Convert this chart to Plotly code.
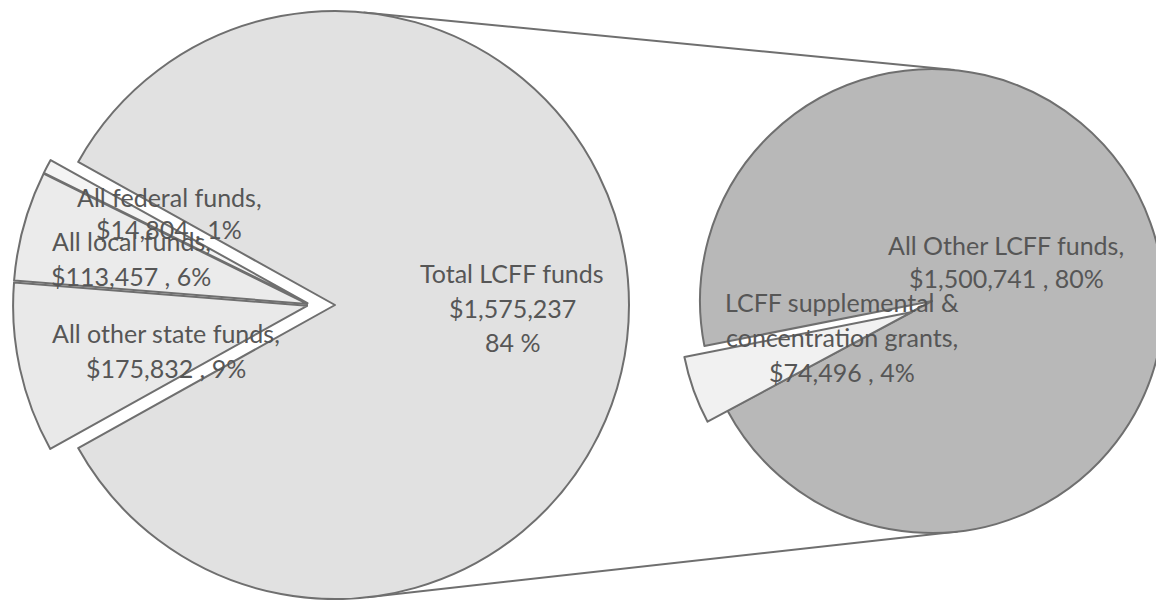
import math
import plotly.graph_objects as go

# ---------------- data ----------------
main_labels = ["All other state funds", "All local funds", "All federal funds", "Total LCFF funds"]
main_values = [175832, 113457, 14804, 1575237]
sub_labels = ["LCFF supplemental & concentration grants", "All Other LCFF funds"]
sub_values = [74496, 1500741]

total = sum(main_values)

# ---------------- layout constants (screen pixels) ----------------
OFF = 8                                  # default page margin around the figure
W, H = 1156, 592                         # figure size
L_CX, L_CY, L_R = 335, 305, 294          # first pie
L_GROUP = (-24, 0)                       # group explosion of the small slices
EXPLODE = 4                              # individual explosion of each small slice
R_CX, R_CY, R_R = 932, 301, 232          # second pie
R_SHIFT = (-20, 11)                      # explosion of the supplemental slice

LCFF_FILL = "#e1e1e1"
SMALL_FILLS = ["#e9e9e9", "#ebebeb", "#f4f4f4"]
SUB_FILL = "#b8b8b8"
SUPP_FILL = "#f1f1f1"
EDGE = "#6f6f6f"
TXT = "#565656"
FONT = "Lato"
FS = 25
CLEAR = "rgba(0,0,0,0)"


def px(sx):
    return (sx - OFF) / W


def py(sy):
    return 1 - (sy - OFF) / H


def domain(cx, cy, r):
    clamp = lambda v: min(1.0, max(0.0, v))
    return dict(x=[clamp(px(cx - r)), clamp(px(cx + r))],
                y=[clamp(py(cy + r)), clamp(py(cy - r))])


# rotation (clockwise from 12 o'clock) so the small slices are centred at 9 o'clock
small_frac = sum(main_values[:3]) / total
start_math = 180 + small_frac * 180          # bottom-left edge of the small group
rot_left = 90 - start_math

# supplemental slice centred slightly below 9 o'clock on the second pie
supp_frac = sub_values[0] / sum(sub_values)
supp_center = 199.7
rot_right = 90 - (supp_center + supp_frac * 180)

fig = go.Figure()

# first pie: LCFF slice (with notch)
fig.add_trace(go.Pie(
    labels=main_labels, values=main_values, sort=False, direction="clockwise",
    rotation=rot_left, textinfo="none", showlegend=False,
    marker=dict(colors=[CLEAR] * 3 + [LCFF_FILL],
                line=dict(color=EDGE, width=[0, 0, 0, 2])),
    domain=domain(L_CX, L_CY, L_R),
))

# first pie: each small slice, exploded
acc = 0.0
for i in range(3):
    frac = main_values[i] / total
    mid_math = start_math - (acc + frac / 2) * 360     # clockwise from the start edge
    acc += frac
    ox = L_GROUP[0] + EXPLODE * math.cos(math.radians(mid_math))
    oy = L_GROUP[1] - EXPLODE * math.sin(math.radians(mid_math))
    colors = [CLEAR] * 4
    colors[i] = SMALL_FILLS[i]
    widths = [0] * 4
    widths[i] = 2
    fig.add_trace(go.Pie(
        labels=main_labels, values=main_values, sort=False, direction="clockwise",
        rotation=rot_left, textinfo="none", showlegend=False,
        marker=dict(colors=colors, line=dict(color=EDGE, width=widths)),
        domain=domain(L_CX + ox, L_CY + oy, L_R),
    ))

# second pie: other LCFF funds
fig.add_trace(go.Pie(
    labels=sub_labels, values=sub_values, sort=False, direction="clockwise",
    rotation=rot_right, textinfo="none", showlegend=False,
    marker=dict(colors=[CLEAR, SUB_FILL], line=dict(color=EDGE, width=[0, 2])),
    domain=domain(R_CX, R_CY, R_R),
))
# second pie: exploded supplemental slice
fig.add_trace(go.Pie(
    labels=sub_labels, values=sub_values, sort=False, direction="clockwise",
    rotation=rot_right, textinfo="none", showlegend=False,
    marker=dict(colors=[SUPP_FILL, CLEAR], line=dict(color=EDGE, width=[2, 0])),
    domain=domain(R_CX + R_SHIFT[0], R_CY + R_SHIFT[1], R_R),
))

# connector lines: external tangents of the two pies
dx, dy = R_CX - L_CX, R_CY - L_CY
d = math.hypot(dx, dy)
ux, uy = dx / d, dy / d
c = (L_R - R_R) / d
s = math.sqrt(1 - c * c)
shapes = []
for sign in (-1, 1):
    nx = c * ux - sign * s * uy
    ny = c * uy + sign * s * ux
    p1 = (L_CX + L_R * nx, L_CY + L_R * ny)
    p2 = (R_CX + R_R * nx, R_CY + R_R * ny)
    shapes.append(dict(type="line", xref="paper", yref="paper", layer="below",
                       x0=px(p1[0]), y0=py(p1[1]), x1=px(p2[0]), y1=py(p2[1]),
                       line=dict(color=EDGE, width=2)))


# labels
def pct(v):
    return round(100 * v / total)


label_lines = {
    "All federal funds": ["All federal funds,", f"${main_values[2]:,} , {pct(main_values[2])}%"],
    "All local funds": ["All local funds,", f"${main_values[1]:,} , {pct(main_values[1])}%"],
    "All other state funds": ["All other state funds,", f"${main_values[0]:,} , {pct(main_values[0])}%"],
    "Total LCFF funds": ["Total LCFF funds", f"${main_values[3]:,}", f"{pct(main_values[3])} %"],
    "All Other LCFF funds": ["All Other LCFF funds,", f"${sub_values[1]:,} , {pct(sub_values[1])}%"],
    "LCFF supplemental & concentration grants": ["LCFF supplemental &", "concentration grants,",
                                                  f"${sub_values[0]:,} , {pct(sub_values[0])}%"],
}
label_pos = {   # (x centre, first line y, line spacing) in screen pixels
    "All federal funds": (169, 197, 32),
    "All local funds": (131, 241, 35),
    "All other state funds": (166, 333, 35),
    "Total LCFF funds": (512, 273, 34.5),
    "All Other LCFF funds": (1006, 245, 33),
    "LCFF supplemental & concentration grants": (842, 302, 35),
}
annotations = []
for key, lines in label_lines.items():
    x, y, step = label_pos[key]
    for i, t in enumerate(lines):
        annotations.append(dict(x=px(x), y=py(y + i * step), xref="paper", yref="paper",
                                text=t, showarrow=False, xanchor="center", yanchor="middle",
                                font=dict(family=FONT, size=FS, color=TXT)))

fig.update_layout(
    width=W, height=H, margin=dict(l=0, r=0, t=0, b=0),
    paper_bgcolor="white", plot_bgcolor="white",
    shapes=shapes, annotations=annotations, showlegend=False,
)

fig.write_html("out.html")
